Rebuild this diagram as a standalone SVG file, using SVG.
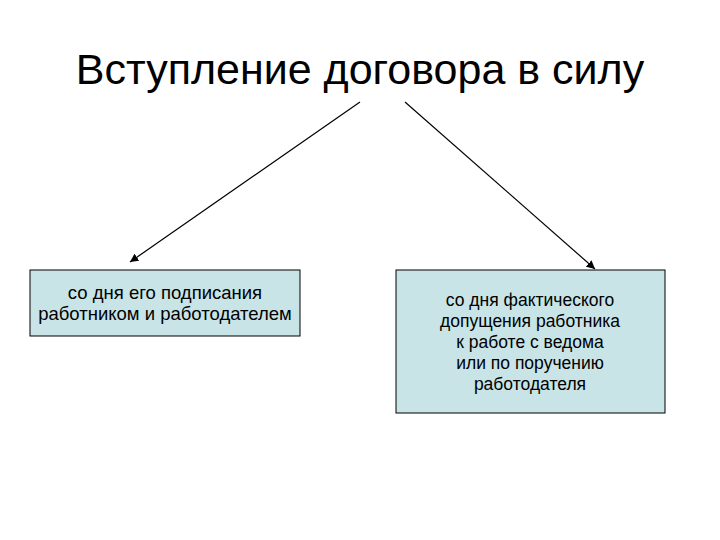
<svg xmlns="http://www.w3.org/2000/svg" width="720" height="540" viewBox="0 0 720 540">
<defs>
<marker id="ah" viewBox="0 0 10 10" refX="10" refY="5" markerWidth="7" markerHeight="7" orient="auto"><path d="M0,0 L10,5 L0,10 z" fill="#000"/></marker>
<style>
.box{fill:#c8e4e7;stroke:#000;stroke-width:1}
.t{font-family:"Liberation Sans",Arial,sans-serif;font-size:17.5px;text-anchor:middle;fill:#000}
.c{stroke:#000;stroke-width:1.2;fill:none;marker-end:url(#ah)}
</style>
</defs>
<rect width="720" height="540" fill="#fff"/>
<text x="360" y="84" font-family="Liberation Sans,Arial,sans-serif" font-size="43" text-anchor="middle">Вступление договора в силу</text>
<g id="connectors">
<line class="c" x1="360" y1="102" x2="130" y2="262"/>
<line class="c" x1="405" y1="102" x2="595" y2="269"/>
</g>
<g id="left">
<rect class="box" x="30" y="270" width="270" height="66"/>
<text class="t" x="165" y="299" style="font-size:18.5px">со дня его подписания</text>
<text class="t" x="165" y="320" style="font-size:18.5px">работником и работодателем</text>
</g>
<g id="right">
<rect class="box" x="396" y="270" width="269" height="143"/>
<text class="t" x="530" y="306">со дня фактического</text>
<text class="t" x="530" y="327">допущения работника</text>
<text class="t" x="530" y="348">к работе с ведома</text>
<text class="t" x="530" y="369">или по поручению</text>
<text class="t" x="530" y="390">работодателя</text>
</g>
</svg>
